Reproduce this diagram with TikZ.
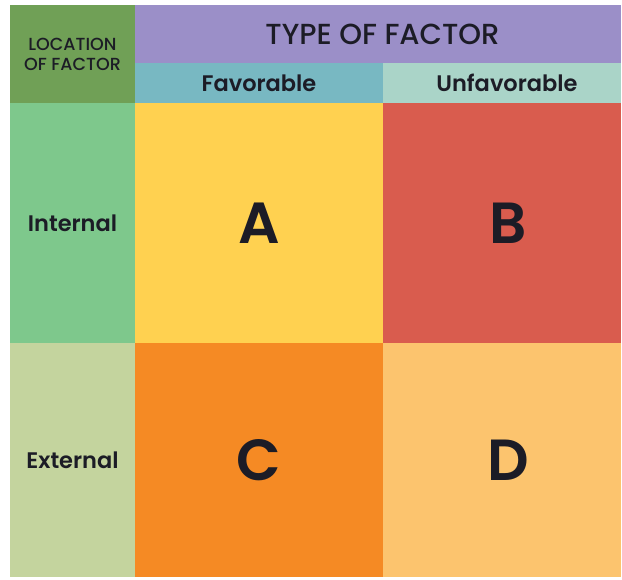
\documentclass[tikz,border=0pt]{standalone}
\usepackage{fontspec}
\setmainfont{Poppins}
\newfontfamily\popsemi{Poppins SemiBold}
\newfontfamily\popmed{Poppins Medium}
\definecolor{cornergreen}{RGB}{112,160,86}
\definecolor{purplehd}{RGB}{155,143,200}
\definecolor{tealhd}{RGB}{120,184,194}
\definecolor{minthd}{RGB}{170,212,200}
\definecolor{intgreen}{RGB}{126,200,140}
\definecolor{extolive}{RGB}{196,212,158}
\definecolor{cellA}{RGB}{255,209,80}
\definecolor{cellB}{RGB}{217,92,78}
\definecolor{cellC}{RGB}{245,138,36}
\definecolor{cellD}{RGB}{252,196,110}
\definecolor{inkc}{RGB}{28,28,38}
\begin{document}
\begin{tikzpicture}[x=1pt,y=-1pt,
  cell/.style={rectangle,inner sep=0pt,outer sep=0pt,anchor=north west,text=inkc},
  lbl/.style={font=\popsemi\fontsize{22.5}{22.5}\selectfont},
  big/.style={font=\popsemi\fontsize{58}{58}\selectfont}]
\useasboundingbox[fill=white] (0,0) rectangle (622,580);
% corner
\node[cell,fill=cornergreen,minimum width=125pt,minimum height=98pt,font=\popmed\fontsize{17.5}{20}\selectfont,align=center] (corner) at (10,5) {LOCATION\\OF FACTOR};
% headers
\node[cell,fill=purplehd,minimum width=486pt,minimum height=58pt,font=\popmed\fontsize{29}{29}\selectfont] (type) at (135,5) {\hspace*{9pt}TYPE OF FACTOR};
\node[cell,fill=tealhd,minimum width=248pt,minimum height=40pt,lbl] (fav) at (135,63) {Favorable};
\node[cell,fill=minthd,minimum width=238pt,minimum height=40pt,lbl] (unfav) at (383,63) {\hspace*{10pt}Unfavorable};
% row labels
\node[cell,fill=intgreen,minimum width=125pt,minimum height=240pt,lbl] (int) at (10,103) {Internal};
\node[cell,fill=extolive,minimum width=125pt,minimum height=234pt,lbl] (ext) at (10,343) {External};
% cells
\node[cell,fill=cellA,minimum width=248pt,minimum height=240pt,big] (A) at (135,103) {A};
\node[cell,fill=cellB,minimum width=238pt,minimum height=240pt,big] (B) at (383,103) {\hspace*{12pt}B};
\node[cell,fill=cellC,minimum width=248pt,minimum height=234pt,big] (C) at (135,343) {C};
\node[cell,fill=cellD,minimum width=238pt,minimum height=234pt,big] (D) at (383,343) {\hspace*{12pt}D};
\end{tikzpicture}
\end{document}
